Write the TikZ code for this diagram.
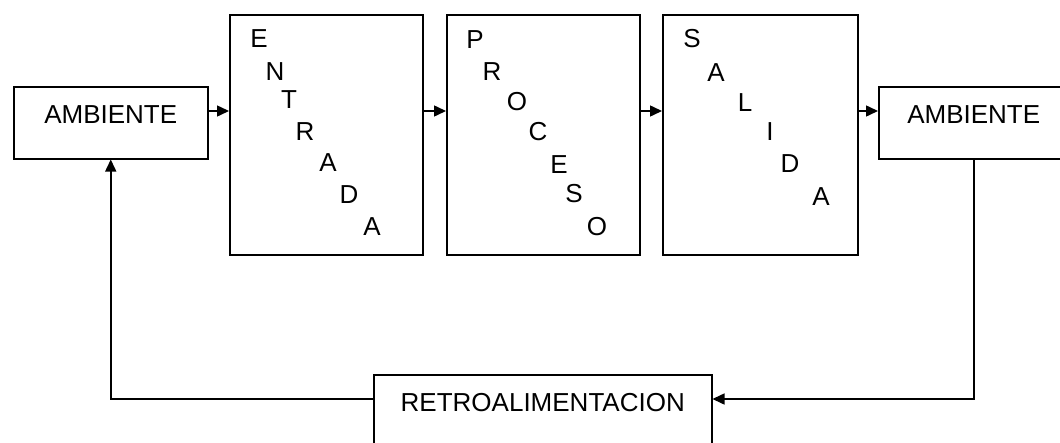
\documentclass[tikz,border=0pt]{standalone}
\usepackage{fontspec}
\setmainfont{Liberation Sans}
\usetikzlibrary{arrows.meta}
\newcommand{\letrero}{\fontsize{26}{30}\selectfont}

\begin{document}
\begin{tikzpicture}[x=1pt,y=-1pt,
        every node/.append style={font=\letrero},
        caja/.style={draw,line width=1.5pt,inner sep=0pt,text height=37pt,text depth=35pt,anchor=north west},
        marco/.style={draw,line width=1.5pt,inner sep=0pt,minimum width=193pt,minimum height=240pt,anchor=north west},
        letra/.style={inner sep=0pt},
        flecha/.style={line width=1.5pt,-{Triangle[length=12pt,width=11pt]}}
    ]
    \useasboundingbox (0,0) rectangle (1060,442);
    \clip (0,0) rectangle (1060,442);
    \node[caja,minimum width=194pt] (amb1) at (13,86) {AMBIENTE};
    \node[marco] (ent) at (229,14) {};
    \node[marco] (pro) at (446,14) {};
    \node[marco,minimum width=195pt] (sal) at (662,14) {};
    \node[caja,minimum width=190pt] (amb2) at (878,86) {AMBIENTE};
    \node[caja,minimum width=338pt] (retro) at (373,374) {RETROALIMENTACION};
    \foreach \l/\x/\y [count=\i] in {E/259/39,N/275/72,T/289/100,R/305/132,A/328/163,D/349/195,A/372/227}
        \node[letra] (ent-\i) at (\x,\y) {\l};
    \foreach \l/\x/\y [count=\i] in {P/475/40,R/492/72,O/517/102,C/538/132,E/559/165,S/574/194,O/597/227}
        \node[letra] (pro-\i) at (\x,\y) {\l};
    \foreach \l/\x/\y [count=\i] in {S/692/39,A/716/73,L/745/103,I/770/132,D/790/164,A/821/197}
        \node[letra] (sal-\i) at (\x,\y) {\l};
    \coordinate (fila) at (0,111);
    \coordinate (retorno) at (0,399);
    \draw[flecha] (amb1.east |- fila) -- (ent.west |- fila);
    \draw[flecha] (ent.east |- fila) -- (pro.west |- fila);
    \draw[flecha] (pro.east |- fila) -- (sal.west |- fila);
    \draw[flecha] (sal.east |- fila) -- (amb2.west |- fila);
    \draw[flecha] (amb2.south) |- (retro.east |- retorno);
    \draw[flecha] (retro.west |- retorno) -| (amb1.south);
\end{tikzpicture}
\end{document}
